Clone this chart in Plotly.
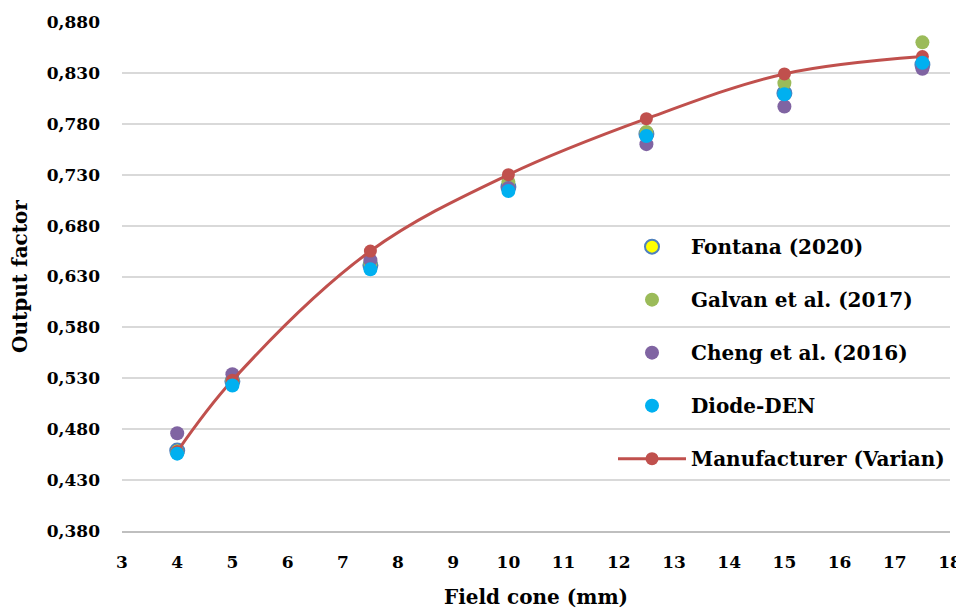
import plotly.graph_objects as go

field_cone = [4, 5, 7.5, 10, 12.5, 15, 17.5]
fontana = [0.459, 0.527, 0.641, 0.718, 0.770, 0.810, 0.838]
galvan = [0.457, 0.528, 0.643, 0.723, 0.772, 0.820, 0.860]
cheng = [0.476, 0.534, 0.646, 0.717, 0.760, 0.797, 0.834]
diode = [0.456, 0.523, 0.637, 0.714, 0.768, 0.809, 0.840]
manufacturer = [0.458, 0.528, 0.655, 0.730, 0.785, 0.829, 0.846]

FONT = "DejaVu Serif"
fig = go.Figure()

def pts(name, y, fill, line_color, rank):
    fig.add_trace(go.Scatter(
        x=field_cone, y=y, mode="markers", name=name, legendgroup=name, legendrank=rank,
        marker=dict(size=14, color=fill, line=dict(color=line_color, width=2 if line_color != fill else 0)),
    ))

pts("Fontana (2020)", fontana, "#ffff00", "#4f81bd", 1)
pts("Galvan et al. (2017)", galvan, "#9bbb59", "#9bbb59", 2)
pts("Cheng et al. (2016)", cheng, "#8064a2", "#8064a2", 3)
fig.add_trace(go.Scatter(
    x=field_cone, y=manufacturer, mode="lines+markers", name="Manufacturer (Varian)",
    legendgroup="man", legendrank=5,
    line=dict(color="#c0504d", width=3, shape="spline", smoothing=1.0),
    marker=dict(size=13, color="#c0504d"),
))
pts("Diode-DEN", diode, "#00b0f0", "#00b0f0", 4)

fig.update_layout(
    width=964, height=610,
    margin=dict(l=114, r=22, t=14, b=87),
    paper_bgcolor="white", plot_bgcolor="white",
    separators=",.",
    font=dict(family=FONT, size=17, color="black"),
    showlegend=True,
    legend=dict(
        x=0.593, y=0.597, xanchor="left", yanchor="top",
        font=dict(family=FONT, size=20, color="black", weight="bold"),
        tracegroupgap=24, bgcolor="rgba(0,0,0,0)", itemwidth=68,
    ),
    xaxis=dict(
        range=[3, 18], dtick=1, tick0=3, showgrid=False, zeroline=False,
        showline=True, linecolor="#bfbfbf", linewidth=2, automargin=False,
        ticks="", ticklabelstandoff=15, ticklabeloverflow="allow",
        tickfont=dict(family=FONT, size=17, weight="bold"),
        title=dict(text="Field cone (mm)", font=dict(family=FONT, size=20, weight="bold"), standoff=19),
    ),
    yaxis=dict(
        range=[0.38, 0.88], dtick=0.05, tick0=0.38, tickformat=".3f",
        showgrid=True, gridcolor="#d9d9d9", gridwidth=2, zeroline=False,
        showline=False, ticks="", ticklabelstandoff=21, automargin=False,
        ticklabeloverflow="allow",
        tickfont=dict(family=FONT, size=17, weight="bold"),
        title=dict(text="Output factor", font=dict(family=FONT, size=20, weight="bold"), standoff=15),
    ),
)

fig.write_html("out.html")
